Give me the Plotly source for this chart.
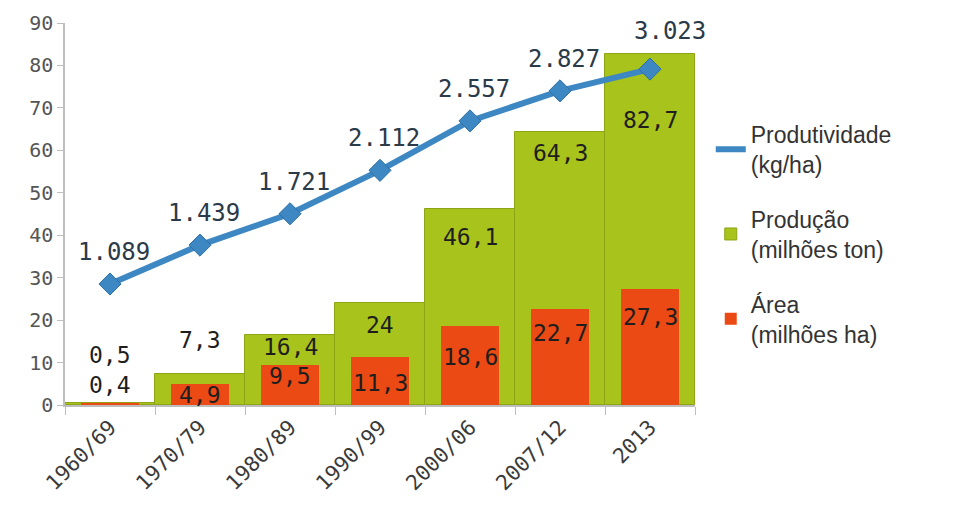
import plotly.graph_objects as go

categories = ["1960/69", "1970/79", "1980/89", "1990/99", "2000/06", "2007/12", "2013"]
producao = [0.5, 7.3, 16.4, 24, 46.1, 64.3, 82.7]
area = [0.4, 4.9, 9.5, 11.3, 18.6, 22.7, 27.3]
produtividade = [1089, 1439, 1721, 2112, 2557, 2827, 3023]
y_ticks = [0, 10, 20, 30, 40, 50, 60, 70, 80, 90]

# pixel offsets of value labels relative to the mark (style only)
prod_shift = [48, 34, -12, -22, -28, -21, -66]
area_shift = [18, -11, -11, -26, -31, -24, -28]

def br(v):
    return ("%g" % v).replace(".", ",")

def thou(v):
    return "{:,}".format(v).replace(",", ".")

LBL_FONT = dict(family="DejaVu Sans Mono", size=23, color="#1e1e1e")

fig = go.Figure()

fig.add_trace(go.Scatter(
    x=categories, y=produtividade, yaxis="y2", mode="lines",
    line=dict(color="#3d87c2", width=6),
    name="Produtividade<br>(kg/ha)", legendgroup="a", hoverinfo="skip"))

fig.add_trace(go.Bar(
    x=categories, y=producao, width=1.0,
    marker=dict(color="#a8c31b", line=dict(color="#8da515", width=1)),
    name="Produção<br>(milhões ton)", legendgroup="b"))

fig.add_trace(go.Bar(
    x=categories, y=area, width=0.65,
    marker=dict(color="#ec4a14", line=dict(width=0)),
    name="Área<br>(milhões ha)", legendgroup="c"))

fig.add_trace(go.Scatter(
    x=categories, y=produtividade, yaxis="y2", mode="markers",
    marker=dict(symbol="diamond", size=17, color="#3d87c2",
                line=dict(color="#2f70a5", width=1)),
    showlegend=False, legendgroup="a", hoverinfo="skip"))

ann = []
for i, (v, s) in enumerate(zip(producao, prod_shift)):
    ann.append(dict(x=i, y=v, xref="x", yref="y", text=br(v), showarrow=False,
                    yshift=s, font=LBL_FONT))
for i, (v, s) in enumerate(zip(area, area_shift)):
    ann.append(dict(x=i, y=v, xref="x", yref="y", text=br(v), showarrow=False,
                    yshift=s, font=LBL_FONT))
for i, v in enumerate(produtividade):
    ann.append(dict(x=i, y=v, xref="x", yref="y2", text=thou(v), showarrow=False,
                    yshift=32 if i < 6 else 38, xshift=4 if i < 6 else 20,
                    font=dict(family="DejaVu Sans Mono", size=24, color="#2b3a48")))

fig.update_layout(
    width=960, height=515,
    margin=dict(l=65, r=265, t=23, b=110),
    paper_bgcolor="white", plot_bgcolor="white",
    barmode="overlay", bargap=0,
    annotations=ann,
    xaxis=dict(type="category", showgrid=False, showline=True, linecolor="#bdbdbd",
               linewidth=1.5, ticks="outside", tickson="boundaries", ticklen=8,
               tickcolor="#bdbdbd", tickangle=-45,
               tickfont=dict(family="DejaVu Sans Mono", size=21, color="#3a3a3a"),
               range=[-0.5, 6.5]),
    yaxis=dict(range=[0, 90], tickvals=y_ticks, showgrid=False, showline=True,
               linecolor="#bdbdbd", linewidth=1.5, ticks="outside", ticklen=6,
               tickcolor="#bdbdbd", zeroline=False,
               tickfont=dict(family="DejaVu Sans Mono", size=20, color="#555555")),
    yaxis2=dict(overlaying="y", range=[0, 90 * 38.2], visible=False),
    legend=dict(x=1.025, y=0.765, xanchor="left", yanchor="top",
                font=dict(family="Liberation Sans", size=23, color="#333333"),
                tracegroupgap=22, traceorder="grouped", bgcolor="rgba(0,0,0,0)"),
    showlegend=True,
)

fig.write_html("out.html")
